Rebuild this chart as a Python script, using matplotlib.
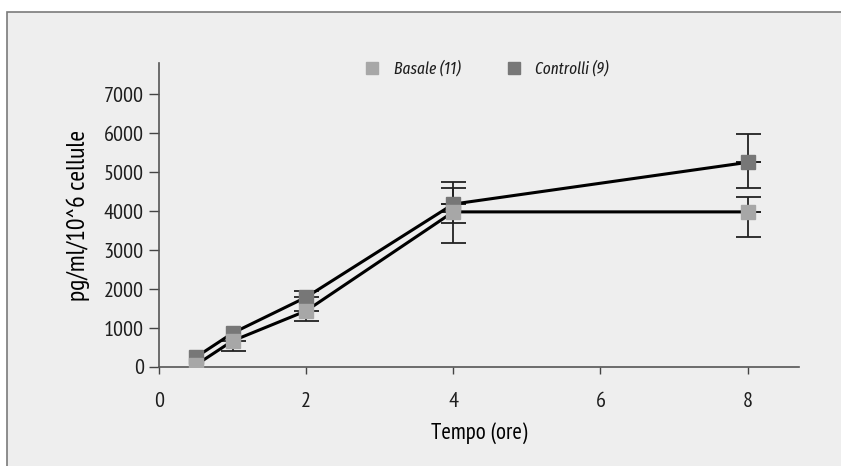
import matplotlib
matplotlib.use("Agg")
import matplotlib.pyplot as plt
from matplotlib.lines import Line2D
from matplotlib.patches import Rectangle

# ---- data ----
hours = [0.5, 1, 2, 4, 8]
basale = [50, 670, 1440, 3980, 3980]
basale_err_low = [0, 250, 250, 800, 650]
basale_err_high = [0, 0, 0, 610, 380]
controlli = [250, 870, 1790, 4180, 5250]
controlli_err_low = [0, 0, 0, 490, 660]
controlli_err_high = [0, 0, 170, 560, 720]
series_labels = ["Basale (11)", "Controlli (9)"]
x_ticks = [0, 2, 4, 6, 8]
y_ticks = [0, 1000, 2000, 3000, 4000, 5000, 6000, 7000]
x_label = "Tempo (ore)"
y_label = "pg/ml/10^6 cellule"

fam = ["PT Sans Narrow", "DejaVu Sans"]
leg_fam = ["Fira Sans Extra Condensed", "DejaVu Sans"]
plt.rcParams['font.family'] = fam
plt.rcParams['text.color'] = "#1e1e1e"
plt.rcParams['xtick.labelcolor'] = "#1e1e1e"
plt.rcParams['ytick.labelcolor'] = "#1e1e1e"

light = "#a7a7a7"
dark = "#777777"

fig = plt.figure(figsize=(8.41, 4.66), dpi=100)
fig.patch.set_facecolor("white")
fig.patches.append(Rectangle((7/841, -0.01), 1.0, 1 - 12/466 + 0.01, transform=fig.transFigure,
                             facecolor="#eeeeee", edgecolor="#7a7a7a", linewidth=1.2, zorder=-10))

ax = fig.add_axes([159/841, 99/466, 640/841, 304/466])
ax.set_facecolor("none")


def draw_err(vals, low, high):
    idx = [i for i in range(len(hours)) if low[i] > 0]
    if idx:
        ax.errorbar([hours[i] for i in idx], [vals[i] for i in idx],
                    yerr=[[low[i] for i in idx], [0] * len(idx)], fmt='none',
                    ecolor="#222222", elinewidth=1.3, capsize=9, capthick=1.3, zorder=2)
    idx = [i for i in range(len(hours)) if high[i] > 0]
    if idx:
        ax.errorbar([hours[i] for i in idx], [vals[i] for i in idx],
                    yerr=[[0] * len(idx), [high[i] for i in idx]], fmt='none',
                    ecolor="#222222", elinewidth=1.3, capsize=9, capthick=1.3, zorder=2)


draw_err(controlli, controlli_err_low, controlli_err_high)
draw_err(basale, basale_err_low, basale_err_high)
ax.plot(hours, controlli, color="black", linewidth=2.2, zorder=3)
ax.plot(hours, basale, color="black", linewidth=2.2, zorder=3)
ax.plot(hours, controlli, linestyle='none', marker='s', markersize=9.5, color=dark, zorder=4)
ax.plot(hours, basale, linestyle='none', marker='s', markersize=9.5, color=light, zorder=5)

ax.set_xlim(0, 8.7)
ax.set_ylim(0, 7800)
ax.set_xticks(x_ticks)
ax.set_yticks(y_ticks)
ax.tick_params(axis='x', direction='out', length=5, width=1, color="#444444", pad=13, labelsize=16)
ax.tick_params(axis='y', direction='out', length=7, width=1, color="#444444", pad=4, labelsize=16)
for s in ["top", "right"]:
    ax.spines[s].set_visible(False)
for s in ["left", "bottom"]:
    ax.spines[s].set_color("#555555")
    ax.spines[s].set_linewidth(1.2)

ax.set_xlabel(x_label, fontsize=16.5, labelpad=8)
ax.set_ylabel(y_label, fontsize=18.5, labelpad=10)

handles = [Line2D([], [], linestyle='none', marker='s', markersize=8, color=light),
           Line2D([], [], linestyle='none', marker='s', markersize=8, color=dark)]
ax.legend(handles, series_labels, loc='center', bbox_to_anchor=(0.505, 0.98), ncol=2,
          frameon=False, handletextpad=0.3, columnspacing=2.2,
          prop={'style': 'italic', 'size': 12, 'family': leg_fam})

fig.savefig("out.png", dpi=100, facecolor=fig.get_facecolor())
